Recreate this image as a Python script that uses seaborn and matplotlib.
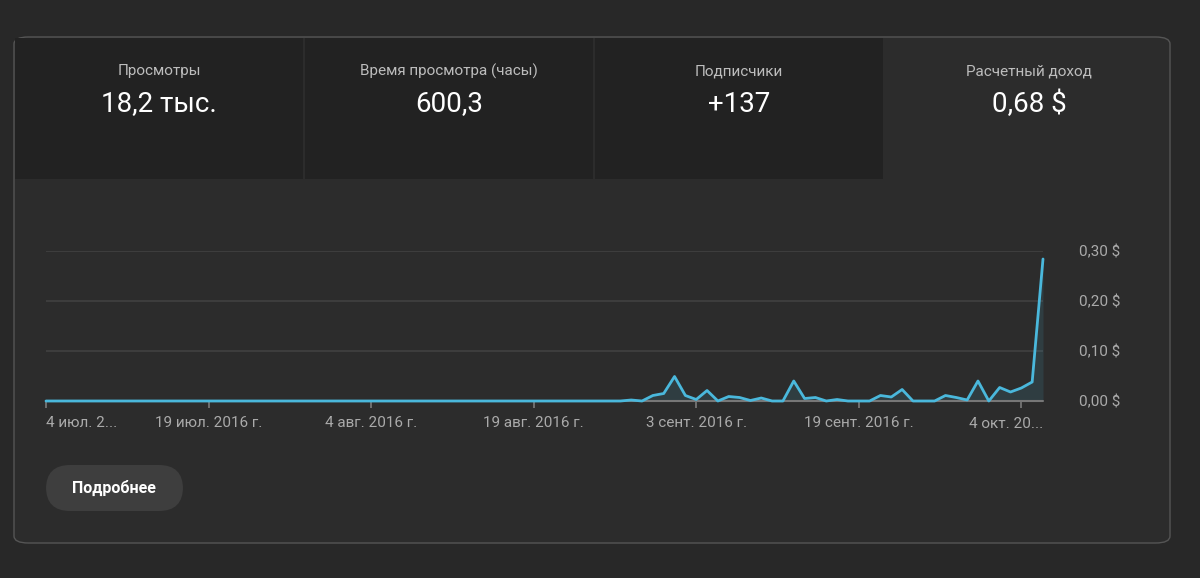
import numpy as np
import pandas as pd
import matplotlib.pyplot as plt
import seaborn as sns
from matplotlib.patches import FancyBboxPatch, Rectangle

# ==================== DATA ====================
tail_values = [0.002, 0, 0.011, 0.015, 0.049, 0.011, 0.003, 0.021, 0, 0.009,
               0.007, 0.001, 0.006, 0, 0, 0.040, 0.005, 0.007, 0, 0.003,
               0, 0, 0, 0.011, 0.008, 0.023, 0, 0, 0, 0.011,
               0.007, 0.002, 0.040, 0, 0.027, 0.018, 0.026, 0.038, 0.284]
revenue = [0.0] * 54 + tail_values
day = list(range(len(revenue)))
tick_pos = [0, 15, 30, 45, 60, 75, 90]
tick_labels = ['4 июл. 2...', '19 июл. 2016 г.', '4 авг. 2016 г.', '19 авг. 2016 г.',
               '3 сент. 2016 г.', '19 сент. 2016 г.', '4 окт. 20...']
y_ticks = [0, 0.1, 0.2, 0.3]
y_labels = ['0,00 $', '0,10 $', '0,20 $', '0,30 $']
card_titles = ['Просмотры', 'Время просмотра (часы)', 'Подписчики', 'Расчетный доход']
card_values = ['18,2 тыс.', '600,3', '+137', '0,68 $']

df = pd.DataFrame({'day': day, 'revenue': revenue})

sns.set_theme(style='dark')
plt.rcParams['font.family'] = ['Roboto', 'DejaVu Sans']

W, H = 1200, 578
fig = plt.figure(figsize=(12, 5.78), dpi=100)
fig.patch.set_facecolor('#282828')

def fx(x): return x / W
def fy(y): return 1 - y / H

# card
card = FancyBboxPatch((fx(14), fy(543)), fx(1156), (543 - 37) / H,
                      boxstyle='round,pad=0,rounding_size=0.012',
                      transform=fig.transFigure, facecolor='#2c2c2c',
                      edgecolor='#555555', linewidth=1)
fig.patches.append(card)
# dark tiles
for i in range(3):
    x0 = 15 + i * 290
    fig.patches.append(Rectangle((fx(x0), fy(179)), fx(288), 141 / H,
                                 transform=fig.transFigure, facecolor='#222222',
                                 edgecolor='none'))
for i, (t, v) in enumerate(zip(card_titles, card_values)):
    cx = 159 + i * 290
    fig.text(fx(cx), fy(71), t, ha='center', va='center', color='#bdbdbd', fontsize=11)
    fig.text(fx(cx), fy(104), v, ha='center', va='center', color='#ffffff', fontsize=20)

# chart
ax = fig.add_axes([fx(46), fy(401), fx(1043 - 46), 150 / H])
ax.set_zorder(5)
ax.patch.set_alpha(0)
sns.lineplot(data=df, x='day', y='revenue', ax=ax, color='#4ab8dc', linewidth=2, zorder=4)
ax.fill_between(df['day'], df['revenue'], color='#4ab8dc', alpha=0.12, linewidth=0)
ax.set_xlim(0, len(day) - 1)
ax.set_ylim(0, 0.3)
ax.set_xticks(tick_pos)
# last label is drawn separately, right-aligned to the plot edge
ax.set_xticklabels(tick_labels[:-1] + [''], color='#aaaaaa', fontsize=11)
ax.get_xticklabels()[0].set_ha('left')
ax.text(1.0, -0.155, tick_labels[-1], transform=ax.transAxes, ha='right', va='center',
        color='#aaaaaa', fontsize=11)
ax.set_yticks(y_ticks)
ax.set_yticklabels(y_labels, color='#aaaaaa', fontsize=11)
ax.yaxis.tick_right()
ax.tick_params(axis='y', length=0, pad=26)
ax.tick_params(axis='x', length=5, color='#777777', pad=6, bottom=True)
ax.grid(axis='y', color='#3d3d3d', linewidth=1.5)
ax.grid(axis='x', visible=False)
for s in ax.spines.values():
    s.set_visible(False)
ax.axhline(0, color='#777777', linewidth=1.5, zorder=1)
ax.set_xlabel('')
ax.set_ylabel('')
for ln in ax.lines:
    ln.set_clip_on(False)

# button
btn = FancyBboxPatch((fx(46), fy(511)), fx(137), 46 / H,
                     boxstyle='round,pad=0,rounding_size=0.02', mutation_aspect=W / H,
                     transform=fig.transFigure, facecolor='#3e3e3e', edgecolor='none')
fig.patches.append(btn)
fig.text(fx(114), fy(488), 'Подробнее', ha='center', va='center', color='#ffffff',
         fontsize=11.5, fontweight='bold')

fig.savefig('out.png', dpi=100, facecolor=fig.get_facecolor())
